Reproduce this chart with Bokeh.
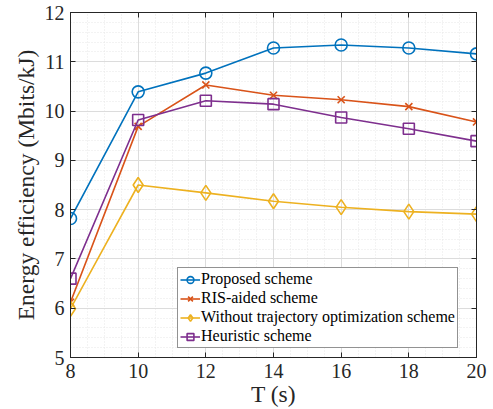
from bokeh.plotting import figure
from bokeh.models import LinearAxis, Legend, LegendItem, SingleIntervalTicker, Range1d, CustomJSTickFormatter
from bokeh.embed import file_html
from bokeh.resources import INLINE

T = [8, 10, 12, 14, 16, 18, 20]
proposed = [7.82, 10.39, 10.77, 11.28, 11.34, 11.28, 11.16]
ris_aided = [6.12, 9.69, 10.53, 10.32, 10.23, 10.09, 9.78]
without_traj = [5.99, 8.50, 8.34, 8.17, 8.05, 7.96, 7.91]
heuristic = [6.60, 9.82, 10.21, 10.14, 9.87, 9.64, 9.39]

names = ["Proposed scheme", "RIS-aided scheme",
         "Without trajectory optimization scheme", "Heuristic scheme"]
colors = ["#0072BD", "#D95319", "#EDB120", "#7E2F8E"]
markers = ["circle", "x", "diamond", "square"]
msizes = [12, 10, 15, 11]

FONT = "Liberation Serif"

p = figure(width=493, height=409, output_backend="svg", toolbar_location=None,
           x_range=Range1d(8, 20), y_range=Range1d(5, 12),
           min_border_left=70, min_border_right=17, min_border_top=12, min_border_bottom=52)
p.background_fill_color = "white"
p.border_fill_color = "white"
p.outline_line_color = "#262626"
p.outline_line_width = 1

xax = p.xaxis[0]
yax = p.yaxis[0]
xax.ticker = SingleIntervalTicker(interval=2, num_minor_ticks=4)
yax.ticker = SingleIntervalTicker(interval=1, num_minor_ticks=5)

for ax in [xax, yax]:
    ax.major_tick_in = 5
    ax.major_tick_out = 0
    ax.minor_tick_in = 0
    ax.minor_tick_out = 0
    ax.axis_line_color = "#262626"
    ax.major_tick_line_color = "#262626"
    ax.major_label_text_font = FONT
    ax.major_label_text_font_size = "20px"
    ax.major_label_text_color = "#262626"
    ax.axis_label_text_font = FONT
    ax.axis_label_text_font_size = "23.5px"
    ax.axis_label_text_font_style = "normal"
    ax.axis_label_text_color = "#262626"

xax.axis_label = "T (s)"
yax.axis_label = "Energy efficiency (Mbits/kJ)"
xax.major_label_standoff = 6
yax.major_label_standoff = 6
xax.axis_label_standoff = 0
yax.axis_label_standoff = 3

for loc, tk in [("above", SingleIntervalTicker(interval=2)), ("right", SingleIntervalTicker(interval=1))]:
    ax = LinearAxis(ticker=tk, formatter=CustomJSTickFormatter(code="return ''"),
                    major_tick_in=5, major_tick_out=0, minor_tick_in=0, minor_tick_out=0,
                    axis_line_color="#262626", major_tick_line_color="#262626",
                    major_label_standoff=0)
    p.add_layout(ax, loc)

p.grid.grid_line_color = "#dcdcdc"
p.grid.grid_line_width = 1
p.grid.minor_grid_line_color = "#e6e6e6"
p.grid.minor_grid_line_dash = "1 2"

series = [proposed, ris_aided, without_traj, heuristic]
items = []
for name, ys, c, m, s in zip(names, series, colors, markers, msizes):
    l = p.line(T, ys, line_color=c, line_width=1.6)
    sc = p.scatter(T, ys, marker=m, size=s, line_color=c, fill_color=None, line_width=1.6)
    items.append(LegendItem(label=name, renderers=[l, sc]))

legend = Legend(items=items, location=(107, 9))
legend.label_text_font = FONT
legend.label_text_font_size = "16px"
legend.label_text_color = "#000000"
legend.glyph_width = 20
legend.glyph_height = 17
legend.label_height = 17
legend.label_standoff = 1
legend.spacing = 1
legend.padding = 2
legend.margin = 0
legend.border_line_color = "#262626"
legend.border_line_width = 1
legend.background_fill_color = "white"
legend.background_fill_alpha = 1
p.add_layout(legend, "center")

open("out.html", "w").write(file_html(p, INLINE))
